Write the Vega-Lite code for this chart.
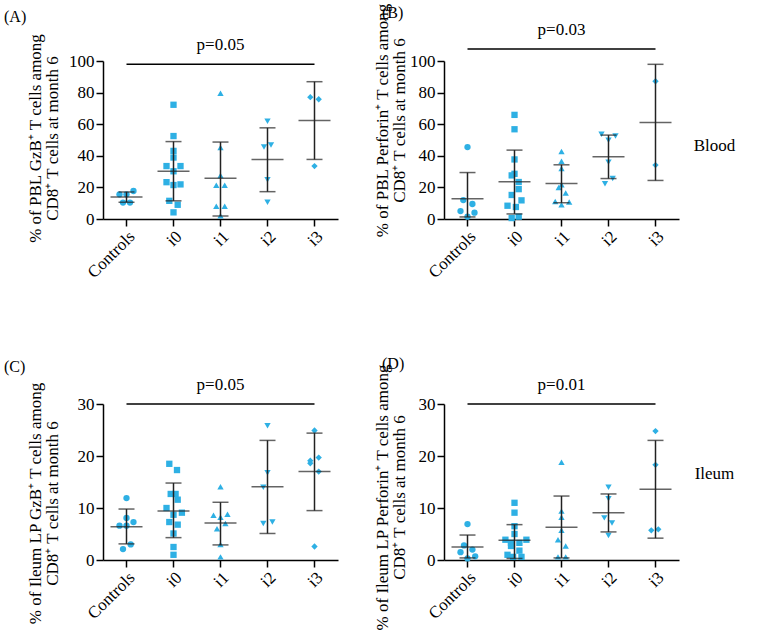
{
  "$schema": "https://vega.github.io/schema/vega-lite/v6.json",
  "padding": {"left": 4, "top": 2, "right": 5, "bottom": 5},
  "config": {
    "font": "Liberation Serif",
    "view": {"stroke": null},
    "axis": {"domainColor": "#000", "domainWidth": 1.5, "tickColor": "#000", "tickWidth": 1.5, "tickSize": 7, "labelFont": "Liberation Serif", "labelFontSize": 17, "labelColor": "#000", "titleFont": "Liberation Serif", "titleFontSize": 17, "titleFontWeight": "normal", "titleColor": "#000", "grid": false, "labelPadding": 2},
    "title": {"font": "Liberation Serif", "fontSize": 16, "fontWeight": "normal", "color": "#000", "anchor": "start", "frame": "group"},
    "text": {"font": "Liberation Serif", "fontSize": 17, "color": "#000"}
  },
  "datasets": {
    "pts": [
      {"panel": "A", "group": "Controls", "value": 15.6, "col": -1},
      {"panel": "A", "group": "Controls", "value": 15.6, "col": 0},
      {"panel": "A", "group": "Controls", "value": 17.7, "col": 1},
      {"panel": "A", "group": "Controls", "value": 10.4, "col": -0.5},
      {"panel": "A", "group": "Controls", "value": 10.4, "col": 0.5},
      {"panel": "A", "group": "i0", "value": 72.3, "col": 0},
      {"panel": "A", "group": "i0", "value": 52.5, "col": 0},
      {"panel": "A", "group": "i0", "value": 43.1, "col": 0},
      {"panel": "A", "group": "i0", "value": 38.9, "col": 0},
      {"panel": "A", "group": "i0", "value": 33.5, "col": -1},
      {"panel": "A", "group": "i0", "value": 33.5, "col": 1},
      {"panel": "A", "group": "i0", "value": 30.2, "col": 0},
      {"panel": "A", "group": "i0", "value": 23.3, "col": -1},
      {"panel": "A", "group": "i0", "value": 21.9, "col": 1},
      {"panel": "A", "group": "i0", "value": 21.5, "col": 0},
      {"panel": "A", "group": "i0", "value": 11.5, "col": -0.6},
      {"panel": "A", "group": "i0", "value": 9.0, "col": 0.6},
      {"panel": "A", "group": "i0", "value": 4.2, "col": 0},
      {"panel": "A", "group": "i1", "value": 79.6, "col": 0},
      {"panel": "A", "group": "i1", "value": 45.2, "col": 0},
      {"panel": "A", "group": "i1", "value": 27.5, "col": 0},
      {"panel": "A", "group": "i1", "value": 21.3, "col": -0.6},
      {"panel": "A", "group": "i1", "value": 21.3, "col": 0.6},
      {"panel": "A", "group": "i1", "value": 8.1, "col": -0.6},
      {"panel": "A", "group": "i1", "value": 8.1, "col": 0.6},
      {"panel": "A", "group": "i1", "value": 2.1, "col": 0},
      {"panel": "A", "group": "i2", "value": 61.9, "col": 0},
      {"panel": "A", "group": "i2", "value": 45.6, "col": -0.5},
      {"panel": "A", "group": "i2", "value": 46.9, "col": 0.5},
      {"panel": "A", "group": "i2", "value": 24.8, "col": 0},
      {"panel": "A", "group": "i2", "value": 10.6, "col": 0},
      {"panel": "A", "group": "i3", "value": 77.1, "col": -0.6},
      {"panel": "A", "group": "i3", "value": 75.8, "col": 0.6},
      {"panel": "A", "group": "i3", "value": 33.5, "col": 0},

      {"panel": "B", "group": "Controls", "value": 45.5, "col": 0},
      {"panel": "B", "group": "Controls", "value": 12.0, "col": -0.6},
      {"panel": "B", "group": "Controls", "value": 9.5, "col": 0.7},
      {"panel": "B", "group": "Controls", "value": 5.0, "col": -1},
      {"panel": "B", "group": "Controls", "value": 4.0, "col": 1},
      {"panel": "B", "group": "Controls", "value": 1.5, "col": 0},
      {"panel": "B", "group": "i0", "value": 65.9, "col": 0},
      {"panel": "B", "group": "i0", "value": 56.8, "col": 0},
      {"panel": "B", "group": "i0", "value": 37.7, "col": 0},
      {"panel": "B", "group": "i0", "value": 28.6, "col": 0},
      {"panel": "B", "group": "i0", "value": 27.6, "col": -0.4},
      {"panel": "B", "group": "i0", "value": 23.4, "col": 0.6},
      {"panel": "B", "group": "i0", "value": 18.9, "col": 0.6},
      {"panel": "B", "group": "i0", "value": 15.2, "col": -0.4},
      {"panel": "B", "group": "i0", "value": 11.8, "col": 1},
      {"panel": "B", "group": "i0", "value": 8.4, "col": -1},
      {"panel": "B", "group": "i0", "value": 7.6, "col": 0.2},
      {"panel": "B", "group": "i0", "value": 1.5, "col": 0.6},
      {"panel": "B", "group": "i0", "value": 0.6, "col": -0.4},
      {"panel": "B", "group": "i1", "value": 42.7, "col": 0},
      {"panel": "B", "group": "i1", "value": 36.6, "col": 0},
      {"panel": "B", "group": "i1", "value": 32.0, "col": 0},
      {"panel": "B", "group": "i1", "value": 21.7, "col": 0},
      {"panel": "B", "group": "i1", "value": 20.0, "col": -0.4},
      {"panel": "B", "group": "i1", "value": 16.4, "col": 0.6},
      {"panel": "B", "group": "i1", "value": 11.1, "col": -0.9},
      {"panel": "B", "group": "i1", "value": 10.7, "col": 1.1},
      {"panel": "B", "group": "i1", "value": 9.0, "col": 0},
      {"panel": "B", "group": "i2", "value": 53.7, "col": -1},
      {"panel": "B", "group": "i2", "value": 52.6, "col": 1},
      {"panel": "B", "group": "i2", "value": 49.9, "col": 0},
      {"panel": "B", "group": "i2", "value": 36.0, "col": 0},
      {"panel": "B", "group": "i2", "value": 25.6, "col": 0.6},
      {"panel": "B", "group": "i2", "value": 22.3, "col": -0.5},
      {"panel": "B", "group": "i3", "value": 87.2, "col": 0},
      {"panel": "B", "group": "i3", "value": 34.1, "col": 0},

      {"panel": "C", "group": "Controls", "value": 11.9, "col": 0},
      {"panel": "C", "group": "Controls", "value": 8.1, "col": 0},
      {"panel": "C", "group": "Controls", "value": 7.3, "col": 1},
      {"panel": "C", "group": "Controls", "value": 6.6, "col": -1},
      {"panel": "C", "group": "Controls", "value": 6.6, "col": 0},
      {"panel": "C", "group": "Controls", "value": 3.0, "col": 0.6},
      {"panel": "C", "group": "Controls", "value": 2.1, "col": -0.5},
      {"panel": "C", "group": "i0", "value": 18.5, "col": -0.6},
      {"panel": "C", "group": "i0", "value": 17.3, "col": 0.5},
      {"panel": "C", "group": "i0", "value": 12.7, "col": -0.4},
      {"panel": "C", "group": "i0", "value": 12.7, "col": 0.3},
      {"panel": "C", "group": "i0", "value": 11.6, "col": 0.6},
      {"panel": "C", "group": "i0", "value": 10.0, "col": -1},
      {"panel": "C", "group": "i0", "value": 9.1, "col": 1.2},
      {"panel": "C", "group": "i0", "value": 8.7, "col": 0},
      {"panel": "C", "group": "i0", "value": 7.3, "col": -0.6},
      {"panel": "C", "group": "i0", "value": 6.8, "col": 0.6},
      {"panel": "C", "group": "i0", "value": 5.1, "col": 0},
      {"panel": "C", "group": "i0", "value": 2.5, "col": 0},
      {"panel": "C", "group": "i0", "value": 1.0, "col": 0},
      {"panel": "C", "group": "i1", "value": 14.1, "col": 0},
      {"panel": "C", "group": "i1", "value": 8.8, "col": 1},
      {"panel": "C", "group": "i1", "value": 8.6, "col": -1},
      {"panel": "C", "group": "i1", "value": 8.2, "col": 0},
      {"panel": "C", "group": "i1", "value": 7.0, "col": 0.7},
      {"panel": "C", "group": "i1", "value": 6.0, "col": -0.5},
      {"panel": "C", "group": "i1", "value": 3.0, "col": 0},
      {"panel": "C", "group": "i1", "value": 0.6, "col": 0},
      {"panel": "C", "group": "i2", "value": 25.8, "col": 0},
      {"panel": "C", "group": "i2", "value": 16.8, "col": 0},
      {"panel": "C", "group": "i2", "value": 14.0, "col": -0.6},
      {"panel": "C", "group": "i2", "value": 7.0, "col": -0.6},
      {"panel": "C", "group": "i2", "value": 7.3, "col": 0.7},
      {"panel": "C", "group": "i3", "value": 24.9, "col": 0},
      {"panel": "C", "group": "i3", "value": 19.7, "col": 0.6},
      {"panel": "C", "group": "i3", "value": 19.1, "col": -0.6},
      {"panel": "C", "group": "i3", "value": 18.6, "col": -0.6},
      {"panel": "C", "group": "i3", "value": 17.0, "col": 0.6},
      {"panel": "C", "group": "i3", "value": 2.6, "col": 0},

      {"panel": "D", "group": "Controls", "value": 6.9, "col": 0},
      {"panel": "D", "group": "Controls", "value": 2.8, "col": -0.5},
      {"panel": "D", "group": "Controls", "value": 2.0, "col": 0.7},
      {"panel": "D", "group": "Controls", "value": 1.5, "col": -1},
      {"panel": "D", "group": "Controls", "value": 0.7, "col": 1.1},
      {"panel": "D", "group": "Controls", "value": 0.3, "col": 0},
      {"panel": "D", "group": "i0", "value": 11.0, "col": 0},
      {"panel": "D", "group": "i0", "value": 9.1, "col": 0},
      {"panel": "D", "group": "i0", "value": 6.5, "col": 0},
      {"panel": "D", "group": "i0", "value": 5.0, "col": 0},
      {"panel": "D", "group": "i0", "value": 3.9, "col": -1.3},
      {"panel": "D", "group": "i0", "value": 3.9, "col": 1.7},
      {"panel": "D", "group": "i0", "value": 3.3, "col": -0.5},
      {"panel": "D", "group": "i0", "value": 3.3, "col": 0.7},
      {"panel": "D", "group": "i0", "value": 2.7, "col": -0.5},
      {"panel": "D", "group": "i0", "value": 1.8, "col": 0.7},
      {"panel": "D", "group": "i0", "value": 1.0, "col": -1},
      {"panel": "D", "group": "i0", "value": 0.6, "col": -0.2},
      {"panel": "D", "group": "i0", "value": 0.6, "col": 1},
      {"panel": "D", "group": "i1", "value": 18.8, "col": 0},
      {"panel": "D", "group": "i1", "value": 9.4, "col": 0},
      {"panel": "D", "group": "i1", "value": 8.2, "col": 0},
      {"panel": "D", "group": "i1", "value": 5.7, "col": 0},
      {"panel": "D", "group": "i1", "value": 3.9, "col": -0.5},
      {"panel": "D", "group": "i1", "value": 2.7, "col": 0.6},
      {"panel": "D", "group": "i1", "value": 0.6, "col": -0.5},
      {"panel": "D", "group": "i1", "value": 0.6, "col": 0.6},
      {"panel": "D", "group": "i2", "value": 14.0, "col": 0},
      {"panel": "D", "group": "i2", "value": 11.8, "col": 0},
      {"panel": "D", "group": "i2", "value": 8.1, "col": -0.6},
      {"panel": "D", "group": "i2", "value": 7.1, "col": 0.5},
      {"panel": "D", "group": "i2", "value": 4.7, "col": 0},
      {"panel": "D", "group": "i3", "value": 24.8, "col": 0},
      {"panel": "D", "group": "i3", "value": 18.3, "col": 0},
      {"panel": "D", "group": "i3", "value": 5.7, "col": -0.6},
      {"panel": "D", "group": "i3", "value": 5.9, "col": 0.4}
    ],
    "sum": [
      {"panel": "A", "group": "Controls", "mean": 14.0, "lo": 10.6, "hi": 17.1},
      {"panel": "A", "group": "i0", "mean": 30.2, "lo": 11.5, "hi": 49.0},
      {"panel": "A", "group": "i1", "mean": 25.8, "lo": 1.9, "hi": 48.7},
      {"panel": "A", "group": "i2", "mean": 37.7, "lo": 17.3, "hi": 57.7},
      {"panel": "A", "group": "i3", "mean": 62.3, "lo": 37.7, "hi": 86.9},
      {"panel": "B", "group": "Controls", "mean": 12.8, "lo": 1.3, "hi": 29.4},
      {"panel": "B", "group": "i0", "mean": 23.6, "lo": 3.2, "hi": 43.6},
      {"panel": "B", "group": "i1", "mean": 22.5, "lo": 10.3, "hi": 34.3},
      {"panel": "B", "group": "i2", "mean": 39.4, "lo": 25.6, "hi": 53.1},
      {"panel": "B", "group": "i3", "mean": 61.0, "lo": 24.4, "hi": 97.9},
      {"panel": "C", "group": "Controls", "mean": 6.4, "lo": 3.1, "hi": 9.8},
      {"panel": "C", "group": "i0", "mean": 9.4, "lo": 4.3, "hi": 14.8},
      {"panel": "C", "group": "i1", "mean": 7.1, "lo": 2.9, "hi": 11.1},
      {"panel": "C", "group": "i2", "mean": 14.1, "lo": 5.1, "hi": 23.0},
      {"panel": "C", "group": "i3", "mean": 17.0, "lo": 9.5, "hi": 24.4},
      {"panel": "D", "group": "Controls", "mean": 2.5, "lo": 0.4, "hi": 4.8},
      {"panel": "D", "group": "i0", "mean": 3.8, "lo": 0.3, "hi": 6.8},
      {"panel": "D", "group": "i1", "mean": 6.3, "lo": 0.4, "hi": 12.3},
      {"panel": "D", "group": "i2", "mean": 9.1, "lo": 5.4, "hi": 12.7},
      {"panel": "D", "group": "i3", "mean": 13.6, "lo": 4.2, "hi": 23.0}
    ],
    "pv": [
      {"panel": "A", "y": 98, "label": "p=0.05"},
      {"panel": "B", "y": 107.6, "label": "p=0.03"},
      {"panel": "C", "y": 30, "label": "p=0.05"},
      {"panel": "D", "y": 30, "label": "p=0.01"}
    ],
    "side": [
      {"panel": "B", "y": 46, "label": "Blood"},
      {"panel": "D", "y": 16.5, "label": "Ileum"}
    ]
  },
  "spacing": 343,
  "bounds": "flush",
  "vconcat": [
    {
      "hconcat": [
        {
          "width": 235, "height": 158,
          "title": {"text": "(A)", "dx": -99, "dy": -4},
          "encoding": {
            "x": {"field": "group", "type": "nominal", "scale": {"domain": ["Controls", "i0", "i1", "i2", "i3"], "paddingInner": 0, "paddingOuter": 0}, "axis": {"title": null, "labelAngle": -45}},
            "y": {"type": "quantitative", "scale": {"domain": [0, 100]}, "axis": {"values": [0, 20, 40, 60, 80, 100], "title": ["% of PBL GzB⁺ T cells among", "CD8⁺ T cells at month 6"], "titleX": -63, "titleY": 77, "titleBaseline": "alphabetic", "titleLineHeight": 17}}
          },
          "layer": [
            {"data": {"name": "pts"}, "transform": [{"filter": "datum.panel == 'A'"}], "mark": {"type": "point", "filled": true, "opacity": 1, "color": "#2EB0E4", "size": 40}, "encoding": {"y": {"field": "value"}, "xOffset": {"field": "col", "type": "quantitative", "scale": {"domain": [-3.36, 3.36]}}, "shape": {"field": "group", "type": "nominal", "scale": {"domain": ["Controls", "i0", "i1", "i2", "i3"], "range": ["circle", "square", "triangle-up", "triangle-down", "diamond"]}, "legend": null}}},
            {"data": {"name": "sum"}, "transform": [{"filter": "datum.panel == 'A'"}], "mark": {"type": "rule", "color": "#222", "strokeWidth": 1.5}, "encoding": {"y": {"field": "lo"}, "y2": {"field": "hi"}}},
            {"data": {"name": "sum"}, "transform": [{"filter": "datum.panel == 'A'"}], "mark": {"type": "tick", "color": "#222", "size": 32, "thickness": 1.5}, "encoding": {"y": {"field": "mean"}}},
            {"data": {"name": "sum"}, "transform": [{"filter": "datum.panel == 'A'"}], "mark": {"type": "tick", "color": "#222", "size": 16, "thickness": 1.5}, "encoding": {"y": {"field": "lo"}}},
            {"data": {"name": "sum"}, "transform": [{"filter": "datum.panel == 'A'"}], "mark": {"type": "tick", "color": "#222", "size": 16, "thickness": 1.5}, "encoding": {"y": {"field": "hi"}}},
            {"data": {"name": "pv"}, "transform": [{"filter": "datum.panel == 'A'"}], "mark": {"type": "rule", "color": "#000", "strokeWidth": 1.5}, "encoding": {"x": {"datum": "Controls", "bandPosition": 0.5}, "x2": {"datum": "i3", "bandPosition": 0.5}, "y": {"field": "y"}}},
            {"data": {"name": "pv"}, "transform": [{"filter": "datum.panel == 'A'"}], "mark": {"type": "text", "dy": -19}, "encoding": {"x": {"datum": "i1"}, "y": {"field": "y"}, "text": {"field": "label"}}}
          ]
        },
        {
          "width": 235, "height": 158,
          "title": {"text": "(B)", "dx": -62, "dy": 22},
          "encoding": {
            "x": {"field": "group", "type": "nominal", "scale": {"domain": ["Controls", "i0", "i1", "i2", "i3"], "paddingInner": 0, "paddingOuter": 0}, "axis": {"title": null, "labelAngle": -45}},
            "y": {"type": "quantitative", "scale": {"domain": [0, 100]}, "axis": {"values": [0, 20, 40, 60, 80, 100], "title": ["% of PBL Perforin⁺ T cells among", "CD8⁺ T cells at month 6"], "titleX": -57, "titleY": 59, "titleBaseline": "alphabetic", "titleLineHeight": 17}}
          },
          "layer": [
            {"data": {"name": "pts"}, "transform": [{"filter": "datum.panel == 'B'"}], "mark": {"type": "point", "filled": true, "opacity": 1, "color": "#2EB0E4", "size": 40}, "encoding": {"y": {"field": "value"}, "xOffset": {"field": "col", "type": "quantitative", "scale": {"domain": [-3.36, 3.36]}}, "shape": {"field": "group", "type": "nominal", "scale": {"domain": ["Controls", "i0", "i1", "i2", "i3"], "range": ["circle", "square", "triangle-up", "triangle-down", "diamond"]}, "legend": null}}},
            {"data": {"name": "sum"}, "transform": [{"filter": "datum.panel == 'B'"}], "mark": {"type": "rule", "color": "#222", "strokeWidth": 1.5}, "encoding": {"y": {"field": "lo"}, "y2": {"field": "hi"}}},
            {"data": {"name": "sum"}, "transform": [{"filter": "datum.panel == 'B'"}], "mark": {"type": "tick", "color": "#222", "size": 32, "thickness": 1.5}, "encoding": {"y": {"field": "mean"}}},
            {"data": {"name": "sum"}, "transform": [{"filter": "datum.panel == 'B'"}], "mark": {"type": "tick", "color": "#222", "size": 16, "thickness": 1.5}, "encoding": {"y": {"field": "lo"}}},
            {"data": {"name": "sum"}, "transform": [{"filter": "datum.panel == 'B'"}], "mark": {"type": "tick", "color": "#222", "size": 16, "thickness": 1.5}, "encoding": {"y": {"field": "hi"}}},
            {"data": {"name": "pv"}, "transform": [{"filter": "datum.panel == 'B'"}], "mark": {"type": "rule", "color": "#000", "strokeWidth": 1.5}, "encoding": {"x": {"datum": "Controls", "bandPosition": 0.5}, "x2": {"datum": "i3", "bandPosition": 0.5}, "y": {"field": "y"}}},
            {"data": {"name": "pv"}, "transform": [{"filter": "datum.panel == 'B'"}], "mark": {"type": "text", "dy": -19}, "encoding": {"x": {"datum": "i1"}, "y": {"field": "y"}, "text": {"field": "label"}}},
            {"data": {"name": "side"}, "transform": [{"filter": "datum.panel == 'B'"}], "mark": {"type": "text", "dx": 59}, "encoding": {"x": {"datum": "i3"}, "y": {"field": "y"}, "text": {"field": "label"}}}
          ]
        }
      ],
      "spacing": 106,
      "bounds": "flush"
    },
    {
      "hconcat": [
        {
          "width": 235, "height": 156,
          "title": {"text": "(C)", "dx": -99, "dy": 3},
          "encoding": {
            "x": {"field": "group", "type": "nominal", "scale": {"domain": ["Controls", "i0", "i1", "i2", "i3"], "paddingInner": 0, "paddingOuter": 0}, "axis": {"title": null, "labelAngle": -45}},
            "y": {"type": "quantitative", "scale": {"domain": [0, 30]}, "axis": {"values": [0, 10, 20, 30], "title": ["% of Ileum LP GzB⁺ T cells among", "CD8⁺ T cells at month 6"], "titleX": -63, "titleY": 99, "titleBaseline": "alphabetic", "titleLineHeight": 17}}
          },
          "layer": [
            {"data": {"name": "pts"}, "transform": [{"filter": "datum.panel == 'C'"}], "mark": {"type": "point", "filled": true, "opacity": 1, "color": "#2EB0E4", "size": 40}, "encoding": {"y": {"field": "value"}, "xOffset": {"field": "col", "type": "quantitative", "scale": {"domain": [-3.36, 3.36]}}, "shape": {"field": "group", "type": "nominal", "scale": {"domain": ["Controls", "i0", "i1", "i2", "i3"], "range": ["circle", "square", "triangle-up", "triangle-down", "diamond"]}, "legend": null}}},
            {"data": {"name": "sum"}, "transform": [{"filter": "datum.panel == 'C'"}], "mark": {"type": "rule", "color": "#222", "strokeWidth": 1.5}, "encoding": {"y": {"field": "lo"}, "y2": {"field": "hi"}}},
            {"data": {"name": "sum"}, "transform": [{"filter": "datum.panel == 'C'"}], "mark": {"type": "tick", "color": "#222", "size": 32, "thickness": 1.5}, "encoding": {"y": {"field": "mean"}}},
            {"data": {"name": "sum"}, "transform": [{"filter": "datum.panel == 'C'"}], "mark": {"type": "tick", "color": "#222", "size": 16, "thickness": 1.5}, "encoding": {"y": {"field": "lo"}}},
            {"data": {"name": "sum"}, "transform": [{"filter": "datum.panel == 'C'"}], "mark": {"type": "tick", "color": "#222", "size": 16, "thickness": 1.5}, "encoding": {"y": {"field": "hi"}}},
            {"data": {"name": "pv"}, "transform": [{"filter": "datum.panel == 'C'"}], "mark": {"type": "rule", "color": "#000", "strokeWidth": 1.5}, "encoding": {"x": {"datum": "Controls", "bandPosition": 0.5}, "x2": {"datum": "i3", "bandPosition": 0.5}, "y": {"field": "y"}}},
            {"data": {"name": "pv"}, "transform": [{"filter": "datum.panel == 'C'"}], "mark": {"type": "text", "dy": -19}, "encoding": {"x": {"datum": "i1"}, "y": {"field": "y"}, "text": {"field": "label"}}}
          ]
        },
        {
          "width": 235, "height": 156,
          "title": {"text": "(D)", "dx": -62, "dy": 13},
          "encoding": {
            "x": {"field": "group", "type": "nominal", "scale": {"domain": ["Controls", "i0", "i1", "i2", "i3"], "paddingInner": 0, "paddingOuter": 0}, "axis": {"title": null, "labelAngle": -45}},
            "y": {"type": "quantitative", "scale": {"domain": [0, 30]}, "axis": {"values": [0, 10, 20, 30], "title": ["% of Ileum LP Perforin⁺ T cells among", "CD8⁺ T cells at month 6"], "titleX": -57, "titleY": 93, "titleBaseline": "alphabetic", "titleLineHeight": 17}}
          },
          "layer": [
            {"data": {"name": "pts"}, "transform": [{"filter": "datum.panel == 'D'"}], "mark": {"type": "point", "filled": true, "opacity": 1, "color": "#2EB0E4", "size": 40}, "encoding": {"y": {"field": "value"}, "xOffset": {"field": "col", "type": "quantitative", "scale": {"domain": [-3.36, 3.36]}}, "shape": {"field": "group", "type": "nominal", "scale": {"domain": ["Controls", "i0", "i1", "i2", "i3"], "range": ["circle", "square", "triangle-up", "triangle-down", "diamond"]}, "legend": null}}},
            {"data": {"name": "sum"}, "transform": [{"filter": "datum.panel == 'D'"}], "mark": {"type": "rule", "color": "#222", "strokeWidth": 1.5}, "encoding": {"y": {"field": "lo"}, "y2": {"field": "hi"}}},
            {"data": {"name": "sum"}, "transform": [{"filter": "datum.panel == 'D'"}], "mark": {"type": "tick", "color": "#222", "size": 32, "thickness": 1.5}, "encoding": {"y": {"field": "mean"}}},
            {"data": {"name": "sum"}, "transform": [{"filter": "datum.panel == 'D'"}], "mark": {"type": "tick", "color": "#222", "size": 16, "thickness": 1.5}, "encoding": {"y": {"field": "lo"}}},
            {"data": {"name": "sum"}, "transform": [{"filter": "datum.panel == 'D'"}], "mark": {"type": "tick", "color": "#222", "size": 16, "thickness": 1.5}, "encoding": {"y": {"field": "hi"}}},
            {"data": {"name": "pv"}, "transform": [{"filter": "datum.panel == 'D'"}], "mark": {"type": "rule", "color": "#000", "strokeWidth": 1.5}, "encoding": {"x": {"datum": "Controls", "bandPosition": 0.5}, "x2": {"datum": "i3", "bandPosition": 0.5}, "y": {"field": "y"}}},
            {"data": {"name": "pv"}, "transform": [{"filter": "datum.panel == 'D'"}], "mark": {"type": "text", "dy": -19}, "encoding": {"x": {"datum": "i1"}, "y": {"field": "y"}, "text": {"field": "label"}}},
            {"data": {"name": "side"}, "transform": [{"filter": "datum.panel == 'D'"}], "mark": {"type": "text", "dx": 59}, "encoding": {"x": {"datum": "i3"}, "y": {"field": "y"}, "text": {"field": "label"}}}
          ]
        }
      ],
      "spacing": 106,
      "bounds": "flush"
    }
  ]
}
